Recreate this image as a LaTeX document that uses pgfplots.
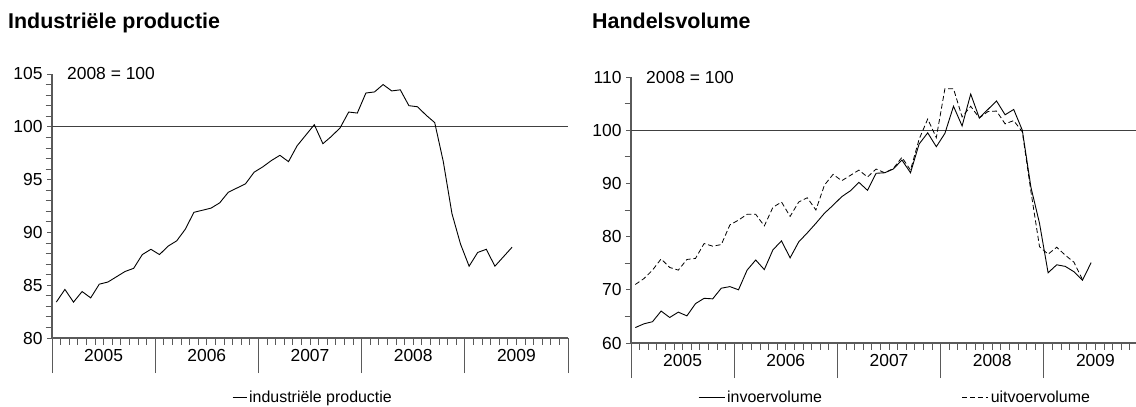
\documentclass[border=0pt]{standalone}
\usepackage{fontspec}
\setmainfont{Liberation Sans}
\usepackage{pgfplots}
\usepackage{pgfplotstable}
\pgfplotsset{compat=1.18}

\definecolor{axgray}{HTML}{5A5A5A}
\definecolor{refline}{HTML}{404040}

\pgfplotstableread{
i v
0.5 83.4
1.5 84.6
2.5 83.4
3.5 84.4
4.5 83.8
5.5 85.1
6.5 85.3
7.5 85.8
8.5 86.3
9.5 86.6
10.5 87.9
11.5 88.4
12.5 87.9
13.5 88.7
14.5 89.2
15.5 90.3
16.5 91.9
17.5 92.1
18.5 92.3
19.5 92.8
20.5 93.8
21.5 94.2
22.5 94.6
23.5 95.7
24.5 96.2
25.5 96.8
26.5 97.3
27.5 96.7
28.5 98.2
29.5 99.2
30.5 100.2
31.5 98.4
32.5 99.1
33.5 99.9
34.5 101.4
35.5 101.3
36.5 103.2
37.5 103.3
38.5 104.0
39.5 103.4
40.5 103.5
41.5 102.0
42.5 101.9
43.5 101.1
44.5 100.4
45.5 96.7
46.5 91.8
47.5 88.9
48.5 86.8
49.5 88.1
50.5 88.4
51.5 86.8
52.5 87.7
53.5 88.6
}\indprod

\pgfplotstableread{
i v
0.5 62.9
1.5 63.6
2.5 64.0
3.5 66.0
4.5 64.8
5.5 65.8
6.5 65.1
7.5 67.4
8.5 68.4
9.5 68.3
10.5 70.3
11.5 70.6
12.5 70.0
13.5 73.7
14.5 75.6
15.5 73.8
16.5 77.5
17.5 79.2
18.5 76.0
19.5 79.0
20.5 80.7
21.5 82.5
22.5 84.4
23.5 85.9
24.5 87.5
25.5 88.6
26.5 90.2
27.5 88.7
28.5 91.9
29.5 92.0
30.5 92.7
31.5 94.4
32.5 92.0
33.5 97.4
34.5 99.5
35.5 96.9
36.5 99.4
37.5 104.5
38.5 100.8
39.5 106.8
40.5 102.3
41.5 103.9
42.5 105.5
43.5 102.9
44.5 103.9
45.5 100.0
46.5 89.3
47.5 82.5
48.5 73.2
49.5 74.7
50.5 74.4
51.5 73.4
52.5 71.8
53.5 75.1
}\invoer

\pgfplotstableread{
i v
0.5 71.0
1.5 72.1
2.5 73.7
3.5 75.8
4.5 74.2
5.5 73.7
6.5 75.7
7.5 75.9
8.5 78.7
9.5 78.2
10.5 78.5
11.5 82.2
12.5 83.1
13.5 84.2
14.5 84.2
15.5 82.0
16.5 85.5
17.5 86.5
18.5 83.8
19.5 86.5
20.5 87.3
21.5 85.0
22.5 89.7
23.5 91.7
24.5 90.5
25.5 91.5
26.5 92.5
27.5 91.2
28.5 92.7
29.5 92.0
30.5 92.8
31.5 94.9
32.5 92.5
33.5 98.3
34.5 102.1
35.5 98.6
36.5 107.8
37.5 107.8
38.5 102.5
39.5 104.5
40.5 102.3
41.5 103.5
42.5 103.6
43.5 101.2
44.5 101.8
45.5 99.7
46.5 88.5
47.5 78.1
48.5 76.7
49.5 78.0
50.5 76.5
51.5 75.2
52.5 71.9
}\uitvoer

\pgfplotsset{
  chartbase/.style={
    scale only axis,
    width=516bp,
    xmin=0, xmax=60,
    axis x line=bottom,
    axis y line=left,
    axis line style={draw=axgray, line width=1.2bp, -},
    tick align=outside,
    tick style={draw=axgray, line width=0.8bp},
    major tick length=5bp,
    minor tick length=6.5bp,
    xtick={6,18,30,42,54},
    xticklabels={2005,2006,2007,2008,2009},
    minor xtick={1,...,59},
    x tick style={draw=none},
    extra x ticks={0,12,24,36,48,60},
    extra x tick labels={},
    extra x tick style={major tick length=35bp, x tick style={draw=axgray, line width=0.9bp}},
    minor x tick style={draw=axgray, line width=0.8bp},
    /pgf/number format/assume math mode=true,
    tick label style={font=\fontsize{17.5}{20}\selectfont, text=black},
    xticklabel style={yshift=-3bp},
    yticklabel style={xshift=-1bp},
    clip=false,
    legend style={draw=none, fill=none, font=\fontsize{16}{19}\selectfont, inner sep=0pt},
  }
}

\begin{document}
\begin{tikzpicture}
\useasboundingbox (0,0) rectangle (1136bp,407bp);

% titles
\node[anchor=base west, inner sep=0pt, font=\bfseries\fontsize{21.5}{25}\selectfont] at (8bp,378bp) {Industriële productie};
\node[anchor=base west, inner sep=0pt, font=\bfseries\fontsize{21.5}{25}\selectfont] at (592bp,378bp) {Handelsvolume};

% left chart
\begin{axis}[chartbase,
  at={(52bp,69bp)}, anchor=south west,
  height=264bp,
  ymin=80, ymax=105,
  ytick={80,85,90,95,100,105},
  minor ytick={81,82,83,84,86,87,88,89,91,92,93,94,96,97,98,99,101,102,103,104},
  legend style={at={(0.349,-0.2235)}, anchor=west},
  legend image code/.code={\draw[#1] (0bp,0bp) -- (14bp,0bp);},
]
\addplot[refline, line width=1.4bp, forget plot] coordinates {(0,100) (60,100)};
\addplot[black, line width=0.9bp] table[x=i, y=v] {\indprod};
\addlegendentry{industriële productie}
\node[anchor=west, inner sep=0pt, font=\fontsize{17.5}{20}\selectfont] at (rel axis cs:0.029,1) {2008 = 100};
\end{axis}

% right chart
\begin{axis}[chartbase,
  at={(631bp,64bp)}, anchor=south west,
  height=266bp,
  ymin=60, ymax=110,
  ytick={60,70,80,90,100,110},
  minor ytick={65,75,85,95,105},
  legend columns=2,
  legend style={at={(0.130,-0.203)}, anchor=west,
    /tikz/every even column/.append style={column sep=138bp}},
  legend image code/.code={\draw[#1] (0bp,0bp) -- (26bp,0bp);},
]
\addplot[refline, line width=1.4bp, forget plot] coordinates {(0,100) (60,100)};
\addplot[black, line width=0.9bp] table[x=i, y=v] {\invoer};
\addlegendentry{invoervolume}
\addplot[black, line width=0.8bp, dash pattern=on 5bp off 2.8bp] table[x=i, y=v] {\uitvoer};
\addlegendentry{uitvoervolume}
\node[anchor=west, inner sep=0pt, font=\fontsize{17.5}{20}\selectfont] at (rel axis cs:0.029,1) {2008 = 100};
\end{axis}
\end{tikzpicture}
\end{document}
